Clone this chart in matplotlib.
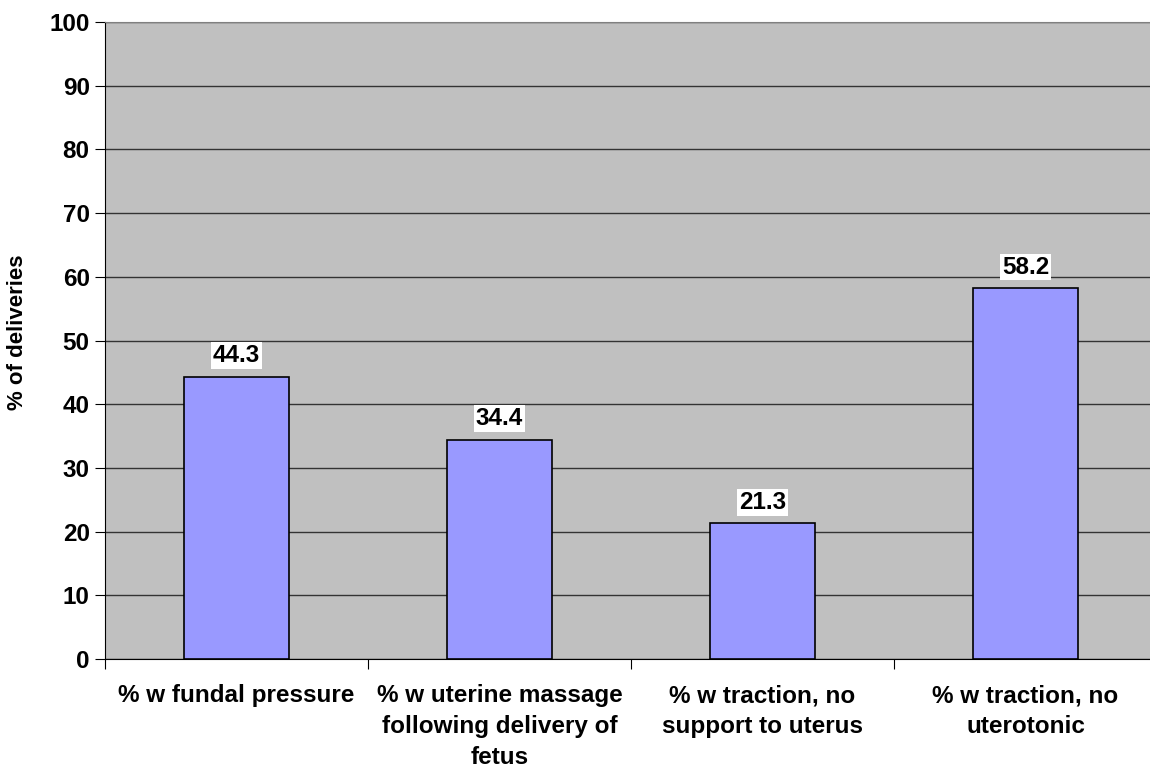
import matplotlib
matplotlib.use("Agg")
import matplotlib.pyplot as plt
import numpy as np

categories = ["% w fundal pressure",
              "% w uterine massage\nfollowing delivery of\nfetus",
              "% w traction, no\nsupport to uterus",
              "% w traction, no\nuterotonic"]
values = [44.3, 34.4, 21.3, 58.2]
yticks = list(range(0, 101, 10))

plt.rcParams['font.family'] = ['Liberation Sans', 'DejaVu Sans']
plt.rcParams['font.weight'] = 'bold'

fig = plt.figure(figsize=(11.5, 7.69), dpi=100)
ax = fig.add_axes([105/1150, 1-659/769, 1052/1150, (659-22)/769])
ax.set_facecolor('#C0C0C0')

pos = np.arange(len(values)) + 0.5
bars = ax.bar(pos, values, width=0.4, color='#9999FF', edgecolor='black', linewidth=1.2, zorder=3)
for p, v in zip(pos, values):
    ax.annotate(f"{v}", (p, v), xytext=(0, 7), textcoords='offset points',
                ha='center', va='bottom', fontsize=17.5, fontweight='bold',
                bbox=dict(boxstyle='square,pad=0.08', fc='white', ec='none'), zorder=4)

ax.set_xlim(0, 4)
ax.set_ylim(0, 100)
ax.set_yticks(yticks)
ax.set_yticklabels([str(t) for t in yticks], fontsize=17.5, fontweight='bold')
ax.yaxis.grid(True, color='#333333', linewidth=1, zorder=0)
ax.set_axisbelow(True)

ax.set_xticks([0, 1, 2, 3, 4])
ax.set_xticklabels([])
ax.set_xticks(pos, minor=True)
ax.set_xticklabels(categories, minor=True, fontsize=17.5, fontweight='bold', linespacing=1.45)
ax.tick_params(axis='x', which='minor', length=0, pad=18)
ax.tick_params(axis='x', which='major', length=7, direction='out', color='black')
ax.tick_params(axis='y', length=7, direction='out', pad=4)

ax.spines['top'].set_color('#808080')
ax.spines['right'].set_visible(False)
ax.spines['left'].set_color('black')
ax.spines['bottom'].set_color('black')

ax.set_ylabel("% of deliveries", fontsize=16, fontweight='bold')
ax.yaxis.set_label_coords(-0.0735, 0.513)

fig.savefig("out.png", dpi=100)
